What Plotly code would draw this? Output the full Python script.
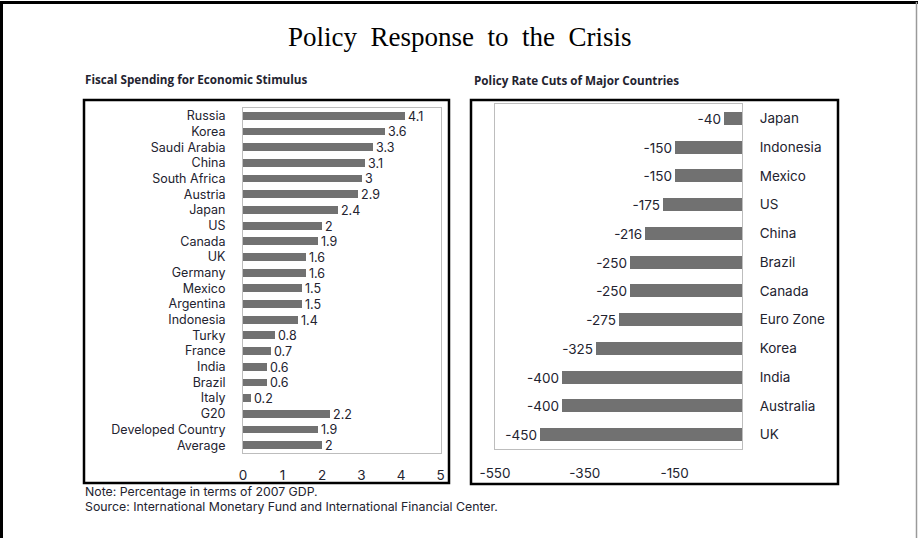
import plotly.graph_objects as go

W, H = 918, 538

# ---------------- data ----------------
fiscal_countries = ["Russia", "Korea", "Saudi Arabia", "China", "South Africa", "Austria",
                    "Japan", "US", "Canada", "UK", "Germany", "Mexico", "Argentina",
                    "Indonesia", "Turky", "France", "India", "Brazil", "Italy", "G20",
                    "Developed Country", "Average"]
fiscal_values = [4.1, 3.6, 3.3, 3.1, 3, 2.9, 2.4, 2, 1.9, 1.6, 1.6, 1.5, 1.5, 1.4,
                 0.8, 0.7, 0.6, 0.6, 0.2, 2.2, 1.9, 2]
fiscal_ticks = [0, 1, 2, 3, 4, 5]

rate_countries = ["Japan", "Indonesia", "Mexico", "US", "China", "Brazil", "Canada",
                  "Euro Zone", "Korea", "India", "Australia", "UK"]
rate_cuts = [-40, -150, -150, -175, -216, -250, -250, -275, -325, -400, -400, -450]
rate_ticks = [-550, -350, -150]

title_text = "Policy Response to the Crisis"
sub_left = "Fiscal Spending for Economic Stimulus"
sub_right = "Policy Rate Cuts of Major Countries"
note_lines = ["Note: Percentage in terms of 2007 GDP.",
              "Source: International Monetary Fund and International Financial Center."]

# ---------------- style ----------------
BAR = "#717171"
FRAME = "#bdbdbd"
TXT = "#23232f"
LABEL_FONT = "Inter, DejaVu Sans, sans-serif"
SUB_FONT = "Open Sans, Liberation Sans, sans-serif"
LSIZE_L = 12.5
LSIZE_R = 13.5


def px_x(x):
    return x / W


def px_y(y):
    return 1 - y / H


def fmt(v):
    return str(v)


fig = go.Figure()

fig.add_trace(go.Bar(
    x=fiscal_values, y=fiscal_countries, orientation="h",
    marker=dict(color=BAR, line=dict(width=0)), width=0.5,
    text=[fmt(v) for v in fiscal_values], texttemplate="%{text}",
    textposition="outside", cliponaxis=False, constraintext="none",
    textfont=dict(family=LABEL_FONT, size=LSIZE_L, color=TXT),
    xaxis="x", yaxis="y", showlegend=False, hoverinfo="skip",
))

fig.add_trace(go.Bar(
    x=rate_cuts, y=rate_countries, orientation="h",
    marker=dict(color=BAR, line=dict(width=0)), width=0.45,
    text=[fmt(v) for v in rate_cuts], texttemplate="%{text}",
    textposition="outside", cliponaxis=False, constraintext="none",
    textfont=dict(family=LABEL_FONT, size=LSIZE_R, color=TXT),
    xaxis="x2", yaxis="y2", showlegend=False, hoverinfo="skip",
))

axis_common = dict(showgrid=False, zeroline=False, showline=True, linecolor=FRAME,
                   linewidth=1, mirror=True, automargin=False, fixedrange=True)

fig.update_layout(
    width=W, height=H,
    margin=dict(l=0, r=0, t=0, b=0),
    paper_bgcolor="white", plot_bgcolor="white",
    bargap=0,
    xaxis=dict(domain=[px_x(243), px_x(440.5)], range=[0, 5], tickvals=fiscal_ticks,
               ticktext=[fmt(t) for t in fiscal_ticks],
               tickfont=dict(family=LABEL_FONT, size=LSIZE_R, color=TXT),
               ticks="", ticklabelstandoff=10, anchor="y", **axis_common),
    yaxis=dict(domain=[px_y(453), px_y(108)], type="category",
               tickmode="array", tickvals=fiscal_countries, ticktext=fiscal_countries,
               tickfont=dict(family=LABEL_FONT, size=LSIZE_L, color=TXT),
               range=[len(fiscal_countries) - 0.5, -0.5], ticks="",
               ticklabelstandoff=14, anchor="x", **axis_common),
    xaxis2=dict(domain=[px_x(495), px_x(742)], range=[-550, 0], tickvals=rate_ticks,
                ticktext=[fmt(t) for t in rate_ticks],
                tickfont=dict(family=LABEL_FONT, size=LSIZE_R, color=TXT),
                ticks="", ticklabelstandoff=12, anchor="y2", **axis_common),
    yaxis2=dict(domain=[px_y(449), px_y(104)], type="category", side="right",
                tickmode="array", tickvals=rate_countries, ticktext=rate_countries,
                tickfont=dict(family=LABEL_FONT, size=LSIZE_R, color=TXT),
                range=[len(rate_countries) - 0.5, -0.5], ticks="",
                ticklabelstandoff=14, anchor="x2", **axis_common),
)

shapes = [
    # outer frame
    dict(type="line", xref="paper", yref="paper", x0=px_x(1.5), x1=px_x(1.5), y0=0, y1=px_y(1),
         line=dict(color="black", width=3)),
    dict(type="line", xref="paper", yref="paper", x0=px_x(0), x1=px_x(918), y0=px_y(2.5), y1=px_y(2.5),
         line=dict(color="black", width=3)),
    dict(type="line", xref="paper", yref="paper", x0=px_x(916.5), x1=px_x(916.5), y0=0, y1=px_y(2),
         line=dict(color="#9a9a9a", width=1.5)),
    # panel boxes
    dict(type="rect", xref="paper", yref="paper", x0=px_x(84), x1=px_x(449), y0=px_y(483), y1=px_y(100),
         line=dict(color="black", width=2.5)),
    dict(type="rect", xref="paper", yref="paper", x0=px_x(471), x1=px_x(838), y0=px_y(484), y1=px_y(100),
         line=dict(color="black", width=2.5)),
]
fig.update_layout(shapes=shapes)

annotations = [
    dict(text=title_text.replace(" ", "&nbsp;&nbsp;"), x=px_x(460), y=px_y(37),
         xref="paper", yref="paper",
         xanchor="center", yanchor="middle", showarrow=False,
         font=dict(family="Liberation Serif, DejaVu Serif, serif", size=27, color="black")),
    dict(text="<b>" + sub_left + "</b>", x=px_x(83), y=px_y(79), xref="paper", yref="paper",
         xanchor="left", yanchor="middle", showarrow=False,
         font=dict(family=SUB_FONT, size=11.7, color=TXT)),
    dict(text="<b>" + sub_right + "</b>", x=px_x(472), y=px_y(80), xref="paper", yref="paper",
         xanchor="left", yanchor="middle", showarrow=False,
         font=dict(family=SUB_FONT, size=11.7, color=TXT)),
]
for i, line in enumerate(note_lines):
    annotations.append(dict(text=line, x=px_x(83), y=px_y(491 + 15.5 * i), xref="paper", yref="paper",
                            xanchor="left", yanchor="middle", showarrow=False,
                            font=dict(family=LABEL_FONT, size=12.3, color=TXT)))
fig.update_layout(annotations=annotations)

fig.write_html("out.html")
